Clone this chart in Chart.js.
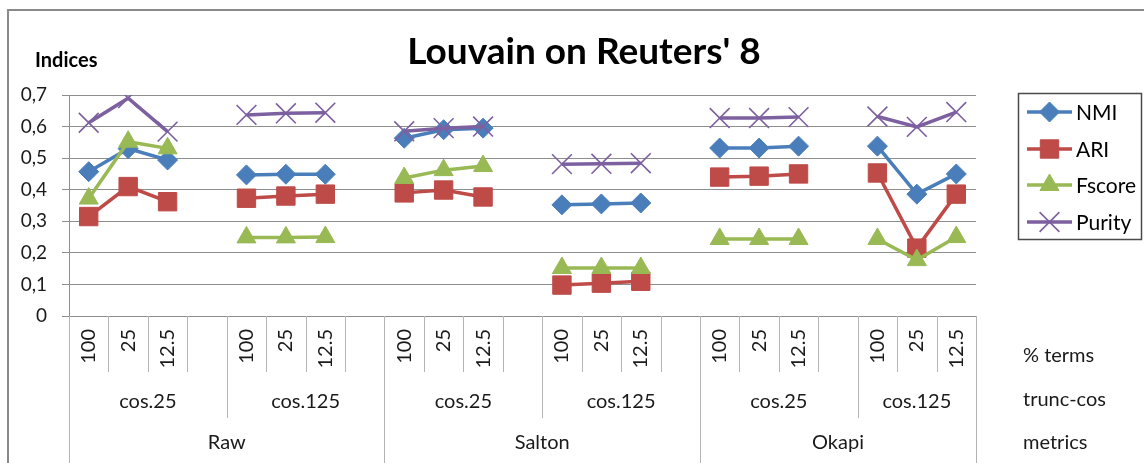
<!DOCTYPE html>
<html>
<head>
<meta charset="utf-8">
<title>Louvain on Reuters' 8</title>
<script src="https://cdn.jsdelivr.net/npm/chart.js@4.4.0/dist/chart.umd.min.js"></script>
<style>
  html, body { margin: 0; padding: 0; background: #fff; }
  #chart { display: block; }
</style>
</head>
<body>
<canvas id="chart" width="1144" height="463"></canvas>
<script>
// % terms kept, one slot per run, empty slot between groups
const termLabels = ['100', '25', '12.5', '', '100', '25', '12.5', '', '100', '25', '12.5', '', '100', '25', '12.5', '', '100', '25', '12.5', '', '100', '25', '12.5'];
const truncLabels = ['cos.25', 'cos.125', 'cos.25', 'cos.125', 'cos.25', 'cos.125'];
const metricLabels = ['Raw', 'Salton', 'Okapi'];
const levelNames = ['% terms', 'trunc-cos', 'metrics'];
const yTicks = [0, 0.1, 0.2, 0.3, 0.4, 0.5, 0.6, 0.7];

const nmi = [0.457, 0.53, 0.494, null, 0.447, 0.449, 0.449, null, 0.563, 0.59, 0.595, null, 0.352, 0.355, 0.358, null, 0.532, 0.532, 0.538, null, 0.538, 0.386, 0.45];
const ari = [0.315, 0.41, 0.362, null, 0.373, 0.38, 0.386, null, 0.39, 0.399, 0.377, null, 0.098, 0.104, 0.11, null, 0.44, 0.443, 0.45, null, 0.453, 0.215, 0.386];
const fscore = [0.372, 0.552, 0.531, null, 0.249, 0.249, 0.25, null, 0.437, 0.462, 0.475, null, 0.152, 0.152, 0.152, null, 0.244, 0.244, 0.244, null, 0.244, 0.177, 0.25];
const purity = [0.612, 0.69, 0.584, null, 0.637, 0.642, 0.644, null, 0.585, 0.595, 0.6, null, 0.481, 0.482, 0.484, null, 0.627, 0.627, 0.63, null, 0.632, 0.599, 0.646];

const FONT = 'Lato, "Noto Sans", sans-serif';
const GRID = '#8e8e8e';
const SEP = '#b4b4b4';

Chart.defaults.font.family = FONT;
Chart.defaults.color = '#1a1a1a';

function series(label, data, color, style, radius, order) {
    return {
        label: label,
        data: data,
        borderColor: color,
        backgroundColor: color,
        borderWidth: 3.5,
        pointStyle: style,
        pointRadius: radius,
        pointHoverRadius: radius,
        pointBackgroundColor: color,
        pointBorderColor: color,
        pointBorderWidth: style === 'crossRot' ? 1.6 : 1,
        tension: 0,
        order: order,
    };
}

// multi-level category labels, separators, title and legend
const decorations = {
    id: 'decorations',
    afterDraw(chart) {
        const ctx = chart.ctx;
        const x = chart.scales.x;
        const n = termLabels.length;
        const half = (x.getPixelForValue(1) - x.getPixelForValue(0)) / 2;
        const edge = i => i < n ? x.getPixelForValue(i) - half : x.getPixelForValue(n - 1) + half;
        const axisY = x.top;

        ctx.save();

        // outer frame
        ctx.strokeStyle = '#8a8a8a';
        ctx.lineWidth = 2;
        ctx.beginPath();
        ctx.moveTo(8, 463);
        ctx.lineTo(8, 10);
        ctx.lineTo(1144, 10);
        ctx.stroke();

        // title
        ctx.fillStyle = '#000';
        ctx.textAlign = 'center';
        ctx.textBaseline = 'middle';
        ctx.font = 'bold 37px ' + FONT;
        ctx.fillText("Louvain on Reuters' 8", 584, 52);

        // y axis title
        ctx.textAlign = 'left';
        ctx.font = 'bold 20px ' + FONT;
        ctx.fillText('Indices', 35, 61);

        // separators
        ctx.strokeStyle = SEP;
        ctx.lineWidth = 1;
        const vline = (px, bottom) => {
            ctx.beginPath();
            ctx.moveTo(Math.round(px) + 0.5, axisY);
            ctx.lineTo(Math.round(px) + 0.5, bottom);
            ctx.stroke();
        };
        for (let i = 0; i <= n; i++) vline(edge(i), 372);
        truncLabels.forEach((_, g) => vline(edge(g * 4), 418));
        metricLabels.forEach((_, g) => vline(edge(g * 8), 463));
        vline(edge(n), 463);

        // group labels
        ctx.fillStyle = '#1a1a1a';
        ctx.textAlign = 'center';
        ctx.font = '20px ' + FONT;
        truncLabels.forEach((lab, g) => {
            const a = edge(g * 4), b = edge(Math.min(g * 4 + 4, n));
            ctx.fillText(lab, (a + b) / 2, 402);
        });
        metricLabels.forEach((lab, g) => {
            const a = edge(g * 8), b = edge(Math.min(g * 8 + 8, n));
            ctx.fillText(lab, (a + b) / 2, 443);
        });

        // level names on the right
        ctx.textAlign = 'left';
        [356, 400, 443].forEach((py, k) => ctx.fillText(levelNames[k], 1023, py));

        // legend
        ctx.strokeStyle = '#4a4a4a';
        ctx.lineWidth = 1.5;
        ctx.strokeRect(1018.5, 93.5, 123, 146);
        ctx.font = '21px ' + FONT;
        const rows = [112, 149, 185, 222];
        chart.data.datasets.forEach((ds, k) => {
            const py = rows[k];
            ctx.strokeStyle = ds.borderColor;
            ctx.lineWidth = ds.borderWidth;
            ctx.beginPath();
            ctx.moveTo(1027, py);
            ctx.lineTo(1072, py);
            ctx.stroke();
            ctx.fillStyle = ds.borderColor;
            ctx.lineWidth = ds.pointBorderWidth;
            Chart.helpers.drawPoint(ctx, {
                pointStyle: ds.pointStyle,
                radius: ds.pointRadius,
                rotation: 0,
                borderWidth: ds.pointBorderWidth,
            }, 1049.5, py);
            ctx.fillStyle = '#000';
            ctx.fillText(ds.label, 1076, py + 1);
        });

        ctx.restore();
    },
};

new Chart(document.getElementById('chart'), {
    type: 'line',
    data: {
        labels: termLabels,
        datasets: [
            series('NMI', nmi, '#4A7EBB', 'rectRot', 10, 4),
            series('ARI', ari, '#BE4B48', 'rect', 13, 3),
            series('Fscore', fscore, '#98B954', 'triangle', 11, 2),
            series('Purity', purity, '#7D60A0', 'crossRot', 14, 1),
        ],
    },
    options: {
        responsive: false,
        animation: false,
        layout: { padding: { left: 15, right: 168, top: 95, bottom: 0 } },
        plugins: {
            legend: { display: false },
            title: { display: false },
            tooltip: { enabled: false },
        },
        scales: {
            x: {
                offset: true,
                grid: { display: false, offset: true },
                border: { display: true, color: GRID, width: 1 },
                ticks: {
                    autoSkip: false,
                    minRotation: 90,
                    maxRotation: 90,
                    padding: 5,
                    color: '#1a1a1a',
                    font: { size: 20 },
                },
                afterFit(scale) {
                    scale.height = 147;
                    scale.paddingLeft = 0;
                    scale.paddingRight = 0;
                },
            },
            y: {
                min: 0,
                max: 0.7,
                afterBuildTicks(scale) {
                    scale.ticks = yTicks.map(v => ({ value: v }));
                },
                grid: { color: GRID, lineWidth: 1, tickLength: 7 },
                border: { display: true, color: GRID, width: 1 },
                ticks: {
                    padding: 15,
                    color: '#1a1a1a',
                    font: { size: 19 },
                    callback: v => v === 0 ? '0' : v.toFixed(1).replace('.', ','),
                },
                afterFit(scale) {
                    scale.width = 54;
                    scale.paddingTop = 0;
                    scale.paddingBottom = 0;
                },
            },
        },
    },
    plugins: [decorations],
});
</script>
</body>
</html>
